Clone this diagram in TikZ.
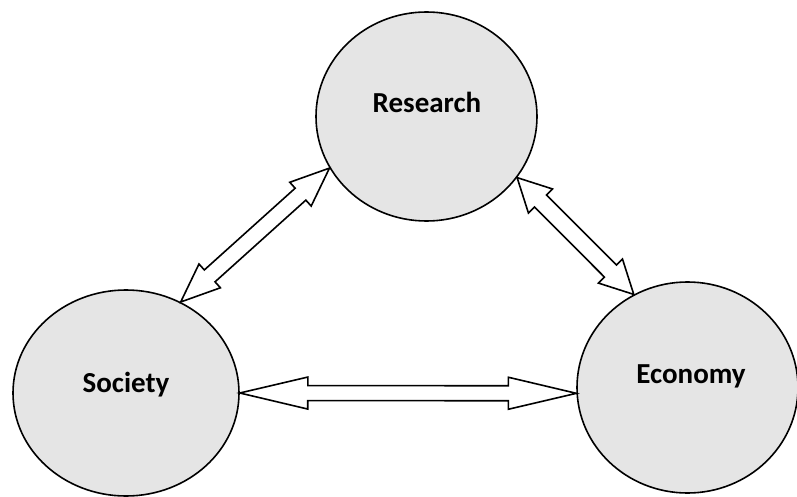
\documentclass[tikz,border=0pt]{standalone}
\usepackage{fontspec}
\setmainfont{Carlito}
\usetikzlibrary{shapes.geometric,calc}
\tikzset{
  circ/.style={ellipse, draw=black, line width=1.6pt, fill=black!10, inner sep=0pt},
  lab/.style={anchor=base, font=\bfseries\fontsize{29}{34}\selectfont, inner sep=0pt},
  harrow/.style={draw=black, line width=1.6pt, fill=white, line join=miter},
}
% #1 start, #2 end, #3 head length, #4 head half width, #5 shaft half width
\newcommand\hollowarrow[5]{%
  \draw[harrow] (#1)
    -- ($(#1)!#3!(#2)!#4!90:(#2)$)
    -- ($(#1)!#3!(#2)!#5!90:(#2)$)
    -- ($(#2)!#3!(#1)!#5!-90:(#1)$)
    -- ($(#2)!#3!(#1)!#4!-90:(#1)$)
    -- (#2)
    -- ($(#2)!#3!(#1)!#4!90:(#1)$)
    -- ($(#2)!#3!(#1)!#5!90:(#1)$)
    -- ($(#1)!#3!(#2)!#5!-90:(#2)$)
    -- ($(#1)!#3!(#2)!#4!-90:(#2)$)
    -- cycle;%
}
\begin{document}
\begin{tikzpicture}[x=1pt,y=-1pt]
\useasboundingbox (0,0) rectangle (797,497);
\node[circ, minimum width=221pt, minimum height=209pt] (res) at (426.5,116.5) {};
\node[circ, minimum width=226pt, minimum height=206pt] (soc) at (126,393) {};
\node[circ, minimum width=221pt, minimum height=211pt] (eco) at (687.5,387.5) {};
\node[lab] (resl) at (427,113) {Research};
\node[lab] (socl) at (126,392) {Society};
\node[lab] (ecol) at (691,383) {Economy};
\coordinate (sr1) at (soc.59.4);
\coordinate (sr2) at (res.208.7);
\coordinate (re1) at (res.326.1);
\coordinate (re2) at (eco.120.9);
\coordinate (se1) at (soc.-0.5);
\coordinate (se2) at (eco.183.4);
\hollowarrow{sr1}{sr2}{39pt}{16pt}{8pt}
\hollowarrow{re1}{re2}{33pt}{17pt}{8.5pt}
\hollowarrow{se1}{se2}{68pt}{16pt}{7.5pt}
\end{tikzpicture}
\end{document}
